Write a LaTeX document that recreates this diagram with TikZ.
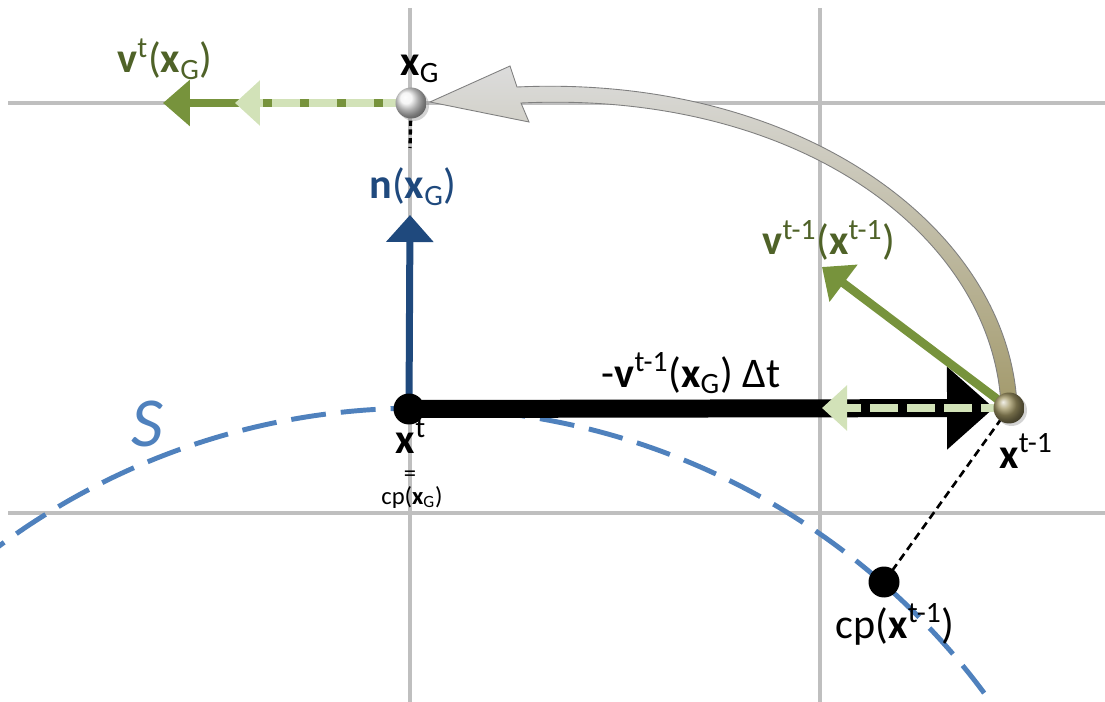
\documentclass[tikz,border=0pt]{standalone}
\usepackage{fontspec}
\setmainfont{Carlito}
\usetikzlibrary{arrows.meta,shadows}

\definecolor{gridgray}{HTML}{BFBFBF}
\definecolor{surfblue}{HTML}{4F81BD}
\definecolor{normblue}{HTML}{1F497D}
\definecolor{velgreen}{HTML}{77933C}
\definecolor{vellight}{HTML}{D2E2B8}
\definecolor{veltext}{HTML}{4F6228}
\definecolor{khaki}{HTML}{A39866}
\definecolor{bandtop}{HTML}{DCDCDC}
\definecolor{bandmid}{HTML}{D0CDB8}
\definecolor{bandbot}{HTML}{A39A6C}
\definecolor{bandline}{HTML}{7F7F7F}

\begin{document}
\begin{tikzpicture}[x=0.02cm, y=-0.02cm,
    lbl/.style={font=\fontsize{24}{28}\selectfont, inner sep=0pt, anchor=base},
    smalllbl/.style={font=\fontsize{14}{16}\selectfont, inner sep=0pt, anchor=base},
    gridline/.style={gridgray, line width=1.9pt},
    surface/.style={surfblue, line width=2.8pt, dash pattern=on 0.7cm off 0.3cm},
    dot/.style={circle, fill=black, inner sep=0pt, minimum size=0.62cm},
    ball/.style={circle, inner sep=0pt, minimum size=0.62cm, ball color=#1,
        drop shadow={opacity=0.35, shadow xshift=0.05cm, shadow yshift=-0.05cm}},
    guide/.style={black, line width=1.9pt, dash pattern=on 3pt off 2pt},
    blackvec/.style={black, line width=0.36cm, -{Triangle[length=0.94cm, width=1.6cm]}},
    lightvec/.style={vellight, line width=0.17cm, dash pattern=on 0.56cm off 0.18cm,
        -{Triangle[length=0.5cm, width=0.88cm]}},
    greenvec/.style={velgreen, line width=0.17cm, -{Triangle[length=0.54cm, width=0.9cm]}},
    normvec/.style={normblue, line width=0.14cm, -{Triangle[length=0.54cm, width=0.92cm]}},
]
\useasboundingbox (0,0) rectangle (1105,702);

% points
\coordinate (xt) at (409,409);
\coordinate (xG) at (411,103);
\coordinate (xp) at (1009,408);
\coordinate (cp) at (884,582);
\coordinate (ntip) at (410,215);
\coordinate (vptip) at (822,267);
\coordinate (vttip) at (163,103);
\coordinate (vtlight) at (235,103);
\coordinate (vblight) at (822,408);
\coordinate (nGend) at (410,148);

% grid
\draw[gridline] (8,103) -- (1105,103);
\draw[gridline] (8,513) -- (1105,513);
\draw[gridline] (410,8) -- (410,702);
\draw[gridline] (820,8) -- (820,702);

% surface S
\begin{scope}
\clip (0,0) rectangle (1105,702);
\draw[surface] (418,1113) circle[radius=14.1cm];
\end{scope}

% curved move from x^{t-1} back to x_G
\shade[top color=bandtop, middle color=bandmid, bottom color=bandbot,
       draw=bandline, line width=0.5pt]
  (430,102) -- (510,66) -- (517,87)
  .. controls (800,74) and (1008,228) .. (1017,405)
  -- (1001,405)
  .. controls (992,236) and (800,90) .. (521,103)
  -- (529,122) -- cycle;

% vectors
\draw[blackvec, shorten >=0.3cm] (xt) -- (xp);
\draw[lightvec] (xp) -- (vblight);
\draw[normvec] (xt) -- (ntip);
\draw[greenvec] (xp) -- (vptip);
\draw[greenvec] (xG) -- (vttip);
\draw[lightvec] (xG) -- (vtlight);

% closest point guides
\draw[guide] (xG) -- (nGend);
\draw[guide, dash pattern=on 4.5pt off 2.8pt, line width=1.5pt] (xp) -- (cp);

% points on top
\node[dot] (xtdot) at (xt) {};
\node[dot] (cpdot) at (cp) {};
\node[ball=gray!10] (xGball) at (xG) {};
\node[ball=khaki] (xpball) at (xp) {};

% labels
\node[lbl] (lxG) at (420,76) {\textbf{x}\textsubscript{G}};
\node[lbl, text=veltext] (lvt) at (165,73)
    {\textbf{v}\textsuperscript{t}(\textbf{x}\textsubscript{G})};
\node[lbl, text=normblue] (ln) at (413,199) {\textbf{n}(\textbf{x}\textsubscript{G})};
\node[lbl, text=veltext] (lvp) at (829,255)
    {\textbf{v}\textsuperscript{t-1}(\textbf{x}\textsuperscript{t-1})};
\node[lbl] (ldt) at (691,387)
    {-\textbf{v}\textsuperscript{t-1}(\textbf{x}\textsubscript{G}) Δt};
\node[lbl] (lxt) at (411,453) {\textbf{x}\textsuperscript{t}};
\node[smalllbl] (leq) at (410,481) {=};
\node[smalllbl] (lcpG) at (412,504) {cp(\textbf{x}\textsubscript{G})};
\node[lbl] (lxp) at (1026,468) {\textbf{x}\textsuperscript{t-1}};
\node[lbl] (lcp) at (895,638) {cp(\textbf{x}\textsuperscript{t-1})};
\node[font=\fontsize{40}{44}\selectfont\itshape, text=surfblue] (lS) at (147,424) {S};

\end{tikzpicture}
\end{document}
